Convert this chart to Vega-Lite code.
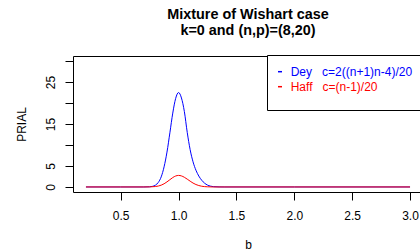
{
  "$schema": "https://vega.github.io/schema/vega-lite/v6.json",
  "width": 350,
  "height": 136,
  "autosize": "none",
  "padding": {"left": 73, "top": 56, "right": 0, "bottom": 60},
  "background": "white",
  "title": {
    "text": ["Mixture of Wishart case", "k=0 and (n,p)=(8,20)"],
    "font": "Liberation Sans",
    "fontSize": 14.4,
    "fontWeight": "bold",
    "color": "black",
    "anchor": "middle",
    "offset": 16,
    "lineHeight": 16
  },
  "config": {
    "view": {"stroke": "black", "strokeWidth": 1},
    "axis": {
      "domain": false,
      "grid": false,
      "tickColor": "black",
      "tickSize": 8,
      "labelFont": "Liberation Sans",
      "labelFontSize": 12,
      "labelColor": "black",
      "titleFont": "Liberation Sans",
      "titleFontSize": 12,
      "titleFontWeight": "normal",
      "titleColor": "black"
    }
  },
  "data": {
    "values": [
      {"series": "Dey", "b": 0.2, "PRIAL": 0},
      {"series": "Dey", "b": 0.5, "PRIAL": 0},
      {"series": "Dey", "b": 0.7, "PRIAL": 0},
      {"series": "Dey", "b": 0.75, "PRIAL": 0.04},
      {"series": "Dey", "b": 0.775, "PRIAL": 0.15},
      {"series": "Dey", "b": 0.8, "PRIAL": 0.42},
      {"series": "Dey", "b": 0.825, "PRIAL": 1.08},
      {"series": "Dey", "b": 0.85, "PRIAL": 2.4},
      {"series": "Dey", "b": 0.875, "PRIAL": 4.8},
      {"series": "Dey", "b": 0.9, "PRIAL": 8.3},
      {"series": "Dey", "b": 0.925, "PRIAL": 12.9},
      {"series": "Dey", "b": 0.95, "PRIAL": 17.6},
      {"series": "Dey", "b": 0.975, "PRIAL": 21.1},
      {"series": "Dey", "b": 1.0, "PRIAL": 22.5},
      {"series": "Dey", "b": 1.025, "PRIAL": 21.2},
      {"series": "Dey", "b": 1.05, "PRIAL": 18.0},
      {"series": "Dey", "b": 1.075, "PRIAL": 13.0},
      {"series": "Dey", "b": 1.1, "PRIAL": 8.9},
      {"series": "Dey", "b": 1.125, "PRIAL": 6.0},
      {"series": "Dey", "b": 1.15, "PRIAL": 4.0},
      {"series": "Dey", "b": 1.175, "PRIAL": 2.6},
      {"series": "Dey", "b": 1.2, "PRIAL": 1.6},
      {"series": "Dey", "b": 1.225, "PRIAL": 0.9},
      {"series": "Dey", "b": 1.25, "PRIAL": 0.45},
      {"series": "Dey", "b": 1.275, "PRIAL": 0.2},
      {"series": "Dey", "b": 1.3, "PRIAL": 0.08},
      {"series": "Dey", "b": 1.35, "PRIAL": 0.01},
      {"series": "Dey", "b": 1.4, "PRIAL": 0},
      {"series": "Dey", "b": 2.0, "PRIAL": 0},
      {"series": "Dey", "b": 3.0, "PRIAL": 0},
      {"series": "Haff", "b": 0.2, "PRIAL": 0},
      {"series": "Haff", "b": 0.5, "PRIAL": 0},
      {"series": "Haff", "b": 0.7, "PRIAL": 0},
      {"series": "Haff", "b": 0.75, "PRIAL": 0.02},
      {"series": "Haff", "b": 0.8, "PRIAL": 0.1},
      {"series": "Haff", "b": 0.825, "PRIAL": 0.22},
      {"series": "Haff", "b": 0.85, "PRIAL": 0.43},
      {"series": "Haff", "b": 0.875, "PRIAL": 0.76},
      {"series": "Haff", "b": 0.9, "PRIAL": 1.21},
      {"series": "Haff", "b": 0.925, "PRIAL": 1.73},
      {"series": "Haff", "b": 0.95, "PRIAL": 2.24},
      {"series": "Haff", "b": 0.975, "PRIAL": 2.61},
      {"series": "Haff", "b": 1.0, "PRIAL": 2.75},
      {"series": "Haff", "b": 1.025, "PRIAL": 2.63},
      {"series": "Haff", "b": 1.05, "PRIAL": 2.31},
      {"series": "Haff", "b": 1.075, "PRIAL": 1.86},
      {"series": "Haff", "b": 1.1, "PRIAL": 1.38},
      {"series": "Haff", "b": 1.125, "PRIAL": 0.93},
      {"series": "Haff", "b": 1.15, "PRIAL": 0.58},
      {"series": "Haff", "b": 1.175, "PRIAL": 0.34},
      {"series": "Haff", "b": 1.2, "PRIAL": 0.17},
      {"series": "Haff", "b": 1.25, "PRIAL": 0.04},
      {"series": "Haff", "b": 1.3, "PRIAL": 0},
      {"series": "Haff", "b": 2.0, "PRIAL": 0},
      {"series": "Haff", "b": 3.0, "PRIAL": 0}
    ]
  },
  "mark": {"type": "line", "strokeWidth": 1, "interpolate": "monotone"},
  "encoding": {
    "x": {
      "field": "b",
      "type": "quantitative",
      "scale": {"domain": [0.088, 3.112], "nice": false, "zero": false},
      "axis": {
        "values": [0.5, 1, 1.5, 2, 2.5, 3],
        "format": ".1f",
        "labelPadding": 10,
        "title": "b",
        "titlePadding": 18
      }
    },
    "y": {
      "field": "PRIAL",
      "type": "quantitative",
      "scale": {"domain": [-1.2, 31.2], "nice": false, "zero": false},
      "axis": {
        "values": [0, 5, 10, 15, 20, 25, 30],
        "labelExpr": "datum.value == 10 || datum.value == 20 || datum.value == 30 ? '' : datum.label",
        "labelAngle": -90,
        "labelPadding": 8,
        "title": "PRIAL",
        "titlePadding": 16
      }
    },
    "color": {
      "field": "series",
      "type": "nominal",
      "scale": {"domain": ["Dey", "Haff"], "range": ["#0000ff", "#ff0000"]},
      "legend": {
        "orient": "none",
        "legendX": 194,
        "legendY": -1,
        "title": "\u00a0",
        "titleOrient": "bottom",
        "titleFontSize": 3,
        "titlePadding": 3,
        "strokeColor": "black",
        "fillColor": "white",
        "padding": 10.7,
        "symbolType": "stroke",
        "symbolSize": 16,
        "symbolStrokeWidth": 1.5,
        "symbolOffset": -3.7,
        "labelOffset": 4.7,
        "labelFont": "Liberation Sans",
        "labelFontSize": 12,
        "rowPadding": 3,
        "labelLimit": 300,
        "labelExpr": "datum.value == 'Dey' ? 'Dey\u00a0\u00a0\u00a0c=2((n+1)n-4)/20' : 'Haff\u00a0\u00a0\u00a0c=(n-1)/20'",
        "encode": {"labels": {"update": {"fill": {"scale": "color", "field": "value"}}}}
      }
    }
  }
}
